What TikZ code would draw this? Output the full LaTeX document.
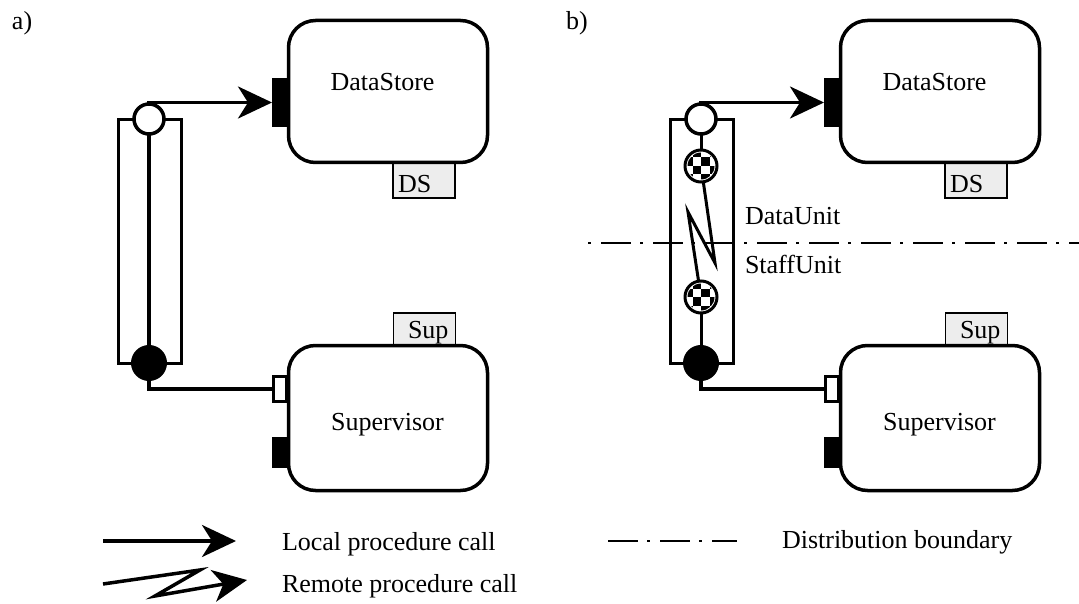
\documentclass[tikz,border=0pt]{standalone}
\usepackage{fontspec}
\setmainfont{Liberation Serif}
\usetikzlibrary{arrows.meta}

\tikzset{
  bigtip/.tip={Stealth[length=34pt,width=32pt,inset=10pt]},
  every node/.style={inner sep=0pt, outer sep=0pt},
  txt/.style={font=\fontsize{26}{30}\selectfont, anchor=base west},
  comp/.style={draw, line width=3.5pt, rounded corners=27pt, fill=white, minimum width=199pt},
  tag/.style={draw, line width=1.4pt, fill=black!7, minimum width=62pt},
  reqport/.style={fill=black, minimum width=18pt, minimum height=49pt},
  provport/.style={draw, line width=2.8pt, fill=white, minimum width=13pt, minimum height=25pt},
  tube/.style={draw, line width=3.5pt, minimum width=63pt, minimum height=244pt},
  openend/.style={circle, draw, line width=3.5pt, fill=white, minimum size=30pt},
  solidend/.style={circle, draw, line width=2pt, fill=black, minimum size=34pt},
  checker/.style={circle, draw, line width=3pt, fill=white, minimum size=32pt,
    path picture={
      \begin{scope}[shift={(path picture bounding box.center)}]
        \clip (0pt,0pt) circle (13.5pt);
        \foreach \i/\j in {-2/-2,-2/0,-1/-1,-1/1,0/-2,0/0,1/-1,1/1}
          \fill[black] (\i*8.5pt,\j*8.5pt) rectangle ++(8.5pt,8.5pt);
      \end{scope}}},
  call/.style={line width=3.5pt, -bigtip},
  wire/.style={line width=3.5pt},
  thinwire/.style={line width=3pt},
  zigwire/.style={line width=3pt, miter limit=20},
  boundary/.style={line width=2.2pt, dash pattern=on 30pt off 9pt on 3pt off 10pt},
}

% one component pair (DataStore above, Supervisor below) with its connector tube
\newcommand\drawpanel[1]{%
  \node[tag, minimum height=36pt] (#1-dstag) at (424,180) {};
  \node[tag, minimum height=33pt] (#1-suptag) at (424.5,329.5) {};
  \node[comp, minimum height=142pt] (#1-ds) at (388,91.5) {};
  \node[comp, minimum height=145pt] (#1-sup) at (388,418) {};
  \node[txt] (#1-dstxt) at (398,193) {DS};
  \node[txt] (#1-suptxt) at (408,338) {Sup};
  \node[txt, anchor=base] (#1-dsname) at (382.5,91) {DataStore};
  \node[txt, anchor=base] (#1-supname) at (387.5,430) {Supervisor};
  \node[reqport] (#1-dsport) at (281,102.5) {};
  \node[provport] (#1-supin) at (280,389) {};
  \node[reqport, minimum width=16pt, minimum height=31pt] (#1-supout) at (280,452) {};
  \node[tube] (#1-tube) at (150,241.5) {};
  \node[openend] (#1-open) at (149,119) {};
  \node[solidend] (#1-solid) at (149,363) {};
  \draw[call] (#1-open.north) |- (#1-dsport.west);
  \draw[wire] (#1-solid.south) |- (#1-supin.west);
}

\begin{document}
\begin{tikzpicture}[x=1pt,y=-1pt]
\useasboundingbox (0,0) rectangle (1079,604);

% panel labels
\node[txt] (lbla) at (12,30) {a)};
\node[txt] (lblb) at (566,30) {b)};

% a) local connection
\drawpanel{a}
\draw[wire] (a-open) -- (a-solid);

% b) distributed connection
\draw[boundary, dash phase=39pt] (588,243) -- (1079,243);
\node[txt] (du) at (745,225) {DataUnit};
\node[txt] (su) at (745,273) {StaffUnit};
\begin{scope}[xshift=552pt]
  \drawpanel{b}
  \node[checker] (b-ck1) at (149,166) {};
  \node[checker] (b-ck2) at (149,297) {};
  \coordinate (b-z1) at (163,263);
  \coordinate (b-z2) at (136,212);
  \draw[thinwire] (b-open) -- (b-ck1);
  \draw[zigwire] (b-ck1) -- (b-z1) -- (b-z2) -- (b-ck2);
  \draw[thinwire] (b-ck2) -- (b-solid);
\end{scope}

% legend
\coordinate (lp1) at (103,541);
\coordinate (lp2) at (236,541);
\draw[call] (lp1) -- (lp2);
\node[txt] (lptxt) at (282,550) {Local procedure call};

\coordinate (rp1) at (103,584);
\coordinate (rp2) at (200,570);
\coordinate (rp3) at (155,596);
\coordinate (rp4) at (247,580);
\draw[call, miter limit=20] (rp1) -- (rp2) -- (rp3) -- (rp4);
\node[txt] (rptxt) at (282,592) {Remote procedure call};

\coordinate (db1) at (608,541);
\coordinate (db2) at (737,541);
\draw[boundary] (db1) -- (db2);
\node[txt] (dbtxt) at (782,548) {Distribution boundary};
\end{tikzpicture}
\end{document}
